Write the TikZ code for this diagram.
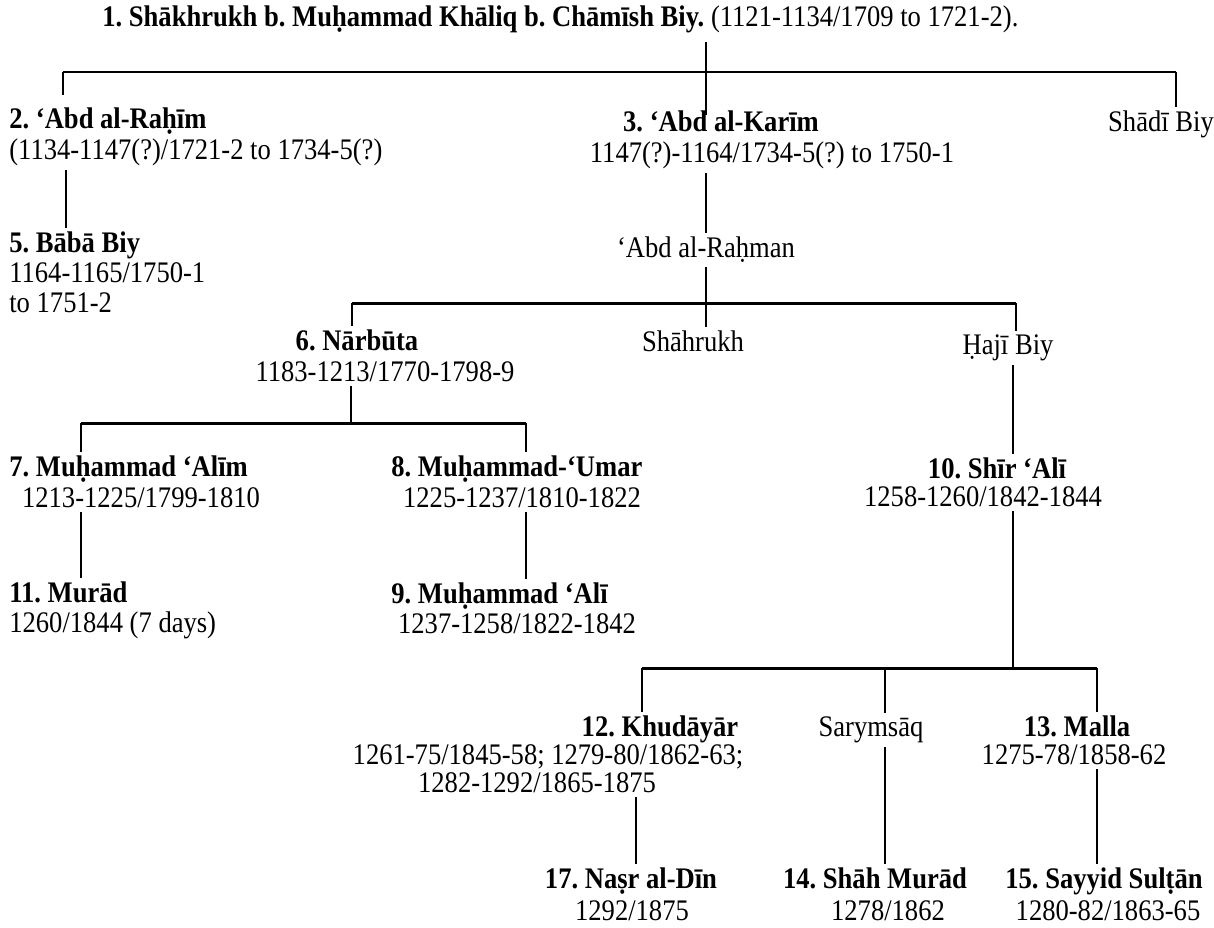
\documentclass[tikz,border=0pt]{standalone}
\usepackage{fontspec}
\setmainfont{Liberation Serif}[FakeStretch=0.89]
\begin{document}
\fontsize{17}{20}\selectfont\frenchspacing
\begin{tikzpicture}[x=0.02cm,y=-0.02cm,
  every node/.style={inner xsep=0pt,inner ysep=2pt,anchor=mid},
  nm/.style={font=\bfseries},
  lw/.style={line width=1.1pt},
  bar/.style={line width=1.7pt}]
\useasboundingbox[fill=white] (0,0) rectangle (1214,927);

% top
\node[anchor=mid west] (t1) at (102,20) {\textbf{1. Shākhrukh b. Muḥammad Khāliq b. Chāmīsh Biy.} (1121-1134/1709 to 1721-2).};

\node[nm,anchor=mid west] (n2) at (9,122) {2. ‘Abd al-Raḥīm};
\node[anchor=mid west] (d2) at (9,153) {(1134-1147(?)/1721-2 to 1734-5(?)};
\node[nm] (n3) at (721,125) {3. ‘Abd al-Karīm};
\node (d3) at (772,156) {1147(?)-1164/1734-5(?) to 1750-1};
\node (s1) at (1161,125) {Shādī Biy};

\node[nm,anchor=mid west] (n5) at (9,246) {5. Bābā Biy};
\node[anchor=mid west] (d5a) at (9,276) {1164-1165/1750-1};
\node[anchor=mid west] (d5b) at (9,306) {to 1751-2};
\node (ar) at (706,251) {‘Abd al-Raḥman};

% second generation
\node[nm] (n6) at (357,344) {6. Nārbūta};
\node (d6) at (385,375) {1183-1213/1770-1798-9};
\node (sh) at (693,345) {Shāhrukh};
\node (hb) at (1008,348) {Ḥajī Biy};

\node[nm,anchor=mid west] (n7) at (9,470) {7. Muḥammad ‘Alīm};
\node (d7) at (141,501) {1213-1225/1799-1810};
\node[nm,anchor=mid west] (n8) at (391,470) {8. Muḥammad-‘Umar};
\node (d8) at (522,501) {1225-1237/1810-1822};
\node[nm] (n10) at (997,472) {10. Shīr ‘Alī};
\node (d10) at (983,500) {1258-1260/1842-1844};

\node[nm,anchor=mid west] (n11) at (9,596) {11. Murād};
\node[anchor=mid west] (d11) at (9,626) {1260/1844 (7 days)};
\node[nm,anchor=mid west] (n9) at (391,597) {9. Muḥammad ‘Alī};
\node (d9) at (517,627) {1237-1258/1822-1842};

% Shir Ali's sons
\node[nm] (n12) at (660,730) {12. Khudāyār};
\node (d12a) at (548,758) {1261-75/1845-58; 1279-80/1862-63;};
\node (d12b) at (537,786) {1282-1292/1865-1875};
\node (sa) at (871,730) {Sarymsāq};
\node[nm] (n13) at (1077,730) {13. Malla};
\node (d13) at (1074,758) {1275-78/1858-62};

\node[nm] (n17) at (631,882) {17. Naṣr al-Dīn};
\node[inner ysep=0pt] (d17) at (632,914) {1292/1875};
\node[nm] (n14) at (875,882) {14. Shāh Murād};
\node[inner ysep=0pt] (d14) at (888,914) {1278/1862};
\node[nm] (n15) at (1104,882) {15. Sayyid Sulṭān};
\node[inner ysep=0pt] (d15) at (1108,914) {1280-82/1863-65};

% lines
\coordinate (t1v) at (706,42);
\coordinate (k3) at (706,115);
\coordinate (b1l) at (63,72);
\coordinate (b1r) at (1176,72);
\coordinate (r2t) at (63,95);
\draw[bar] (b1l) -- (b1r);
\draw[lw] (t1v) -- (k3);
\draw[lw] (b1l) -- (r2t);
\draw[lw] (b1r) -- (s1.north -| b1r);
\draw[lw] (d2.south -| 66,0) -- (n5.north -| 66,0);
\draw[lw] (d3.south -| k3) -- (ar.north -| k3);

\coordinate (b2l) at (352,303);
\coordinate (b2m) at (706,303);
\coordinate (b2r) at (1016,303);
\draw[bar] (b2l) -- (b2r);
\draw[lw] (ar.south -| b2m) -- (b2m);
\draw[lw] (b2l) -- (n6.north -| b2l);
\draw[lw] (b2m) -- (sh.north -| b2m);
\draw[lw] (b2r) -- (hb.north -| b2r);

\coordinate (b3l) at (81,423);
\coordinate (b3m) at (351,423);
\coordinate (b3r) at (526,423);
\draw[bar] (b3l) -- (b3r);
\draw[lw] (d6.south -| b3m) -- (b3m);
\draw[lw] (b3l) -- (n7.north -| b3l);
\draw[lw] (b3r) -- (n8.north -| b3r);
\draw[lw] (d7.south -| b3l) -- (n11.north -| b3l);
\draw[lw] (d8.south -| b3r) -- (n9.north -| b3r);

\coordinate (b4l) at (642,668);
\coordinate (b4s) at (885,668);
\coordinate (b4m) at (1013,668);
\coordinate (b4r) at (1097,668);
\draw[lw] (hb.south -| b4m) -- (n10.north -| b4m);
\draw[bar] (b4l) -- (b4r);
\draw[lw] (d10.south -| b4m) -- (b4m);
\draw[lw] (b4l) -- (n12.north -| b4l);
\draw[lw] (b4s) -- (sa.north -| b4s);
\draw[lw] (b4r) -- (n13.north -| b4r);
\draw[lw] (d12b.south -| 636,0) -- (n17.north -| 636,0);
\draw[lw] (sa.south -| b4s) -- (n14.north -| b4s);
\draw[lw] (d13.south -| b4r) -- (n15.north -| b4r);
\end{tikzpicture}
\end{document}
